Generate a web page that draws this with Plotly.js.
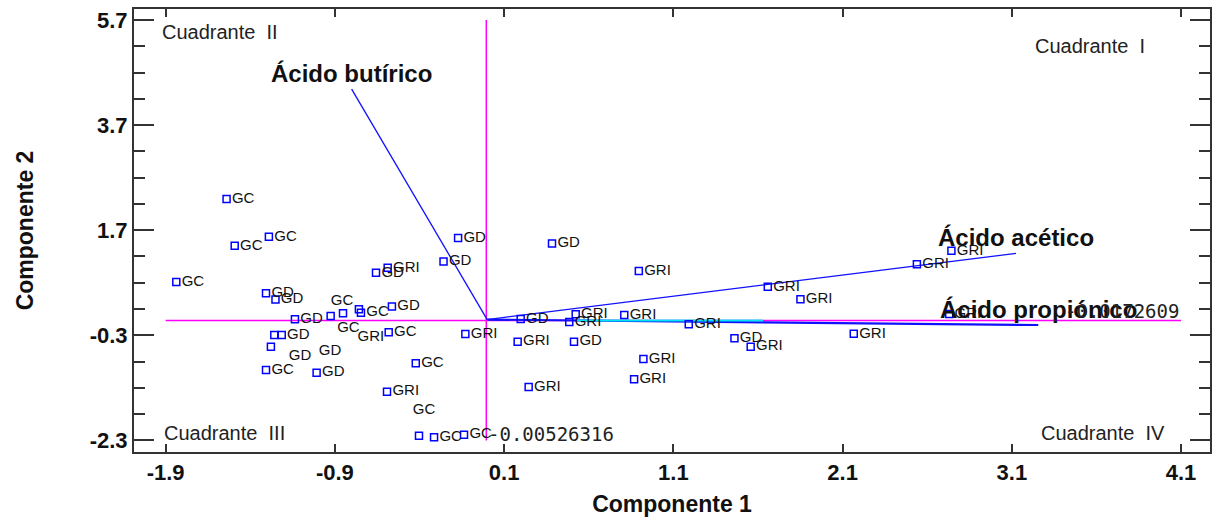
<!DOCTYPE html>
<html>
<head>
<meta charset="utf-8">
<script src="https://cdn.plot.ly/plotly-3.0.1.min.js"></script>
<style>
  html, body { margin: 0; padding: 0; background: #ffffff; }
  #chart { width: 1212px; height: 519px; }
</style>
</head>
<body>
<div id="chart"></div>
<script>
// ---- Data ----
// Observations with a visible square marker
const obsX = [-1.540, -1.290, -1.492, -1.837, -1.307, -1.251, -0.172, -0.258, -0.657, -0.588,
              -0.563, -1.136, -0.925, -0.852, -0.758, -0.746, -1.258, -1.214, -1.278, -1.307,
              -1.008, -0.582, -0.129, -0.422, -0.592, -0.403, -0.314, -0.137, 0.383, 0.896,
              0.198, 0.523, 0.485, 0.810, 1.191, 1.461, 1.557, 0.180, 0.513, 0.923,
              0.868, 0.245, 1.658, 1.851, 2.539, 2.743, 2.166, 2.730];
const obsY = [2.292, 1.575, 1.404, 0.713, 0.499, 0.381, 1.550, 1.103, 0.890, 0.985,
              0.248, 0.004, 0.067, 0.118, 0.194, 0.130, -0.294, -0.294, -0.517, -0.960,
              -1.011, -0.243, -0.275, -0.832, -1.372, -2.209, -2.240, -2.190, 1.449, 0.923,
              0.010, 0.099, -0.047, 0.086, -0.091, -0.357, -0.517, -0.422, -0.422, -0.751,
              -1.137, -1.283, 0.624, 0.385, 1.050, 1.309, -0.270, 0.105];
const obsLabel = ["GC", "GC", "GC", "GC", "GD", "GD", "GD", "GD", "GD", "GRI",
                  "GD", "GD", "", "", "", "GC", "", "GD", "", "GC",
                  "GD", "GC", "GRI", "GC", "GRI", "", "GC", "GC", "GD", "GRI",
                  "GD", "GRI", "GRI", "GRI", "GRI", "GD", "GRI", "GRI", "GD", "GRI",
                  "GRI", "GRI", "GRI", "GRI", "GRI", "GRI", "GRI", "GRI"];

// Labels displaced from their markers (drawn as text only)
const looseX = [-0.858, -0.820, -0.687, -1.106, -0.929, -0.373];
const looseY = [0.352, -0.161, -0.332, -0.707, -0.612, -1.734];
const looseLabel = ["GC", "GC", "GRI", "GD", "GD", "GC"];

// Variable vectors (loadings)
const varNames = ["Ácido butírico", "Ácido acético", "Ácido propiónico"];
const varX = [-0.801, 3.125, 3.256];
const varY = [4.383, 1.259, -0.104];

// Reference lines through the centroid
const refX = -0.00526316;
const refY = -0.0172609;
const refXLabel = "-0.00526316";
const refYLabel = "-0.0172609";
const refXSpan = [-2.3, 5.7];
const refYSpan = [-1.9, 4.1];
const cyanSegX = [0.53, 1.63];

// Axis ticks
const xTicks = [-1.9, -0.9, 0.1, 1.1, 2.1, 3.1, 4.1];
const xTickText = ["-1.9", "-0.9", "0.1", "1.1", "2.1", "3.1", "4.1"];
const yTicks = [-2.3, -0.3, 1.7, 3.7, 5.7];
const yTickText = ["-2.3", "-0.3", "1.7", "3.7", "5.7"];
const yMinor = [-1.8, -1.3, -0.8, 0.2, 0.7, 1.2, 2.2, 2.7, 3.2, 4.2, 4.7, 5.2];

const quadText = ["Cuadrante  I", "Cuadrante  II", "Cuadrante  III", "Cuadrante  IV"];

// ---- Traces ----
const traces = [];
traces.push({ x: [refX, refX], y: refXSpan, mode: "lines", type: "scatter",
  line: { color: "#ff00ff", width: 1.5 }, hoverinfo: "skip", showlegend: false });
traces.push({ x: refYSpan, y: [refY, refY], mode: "lines", type: "scatter",
  line: { color: "#ff00ff", width: 1.5 }, hoverinfo: "skip", showlegend: false });
for (let i = 0; i < varNames.length; i++) {
  traces.push({ x: [0, varX[i]], y: [0, varY[i]], mode: "lines", type: "scatter",
    line: { color: "#1010ff", width: i === 2 ? 2.2 : 1.3 }, hoverinfo: "skip", showlegend: false });
}
traces.push({ x: cyanSegX, y: [refY, refY], mode: "lines", type: "scatter",
  line: { color: "#00e5ee", width: 2 }, hoverinfo: "skip", showlegend: false });
const ptFont = { family: "Liberation Sans, Arial, sans-serif", size: 15, color: "#111" };
traces.push({ x: obsX, y: obsY, text: obsLabel, mode: "markers+text", type: "scatter",
  textposition: "middle right", textfont: ptFont,
  marker: { symbol: "square-open", size: 7, color: "#0000ff", line: { width: 1.5, color: "#0000ff" } },
  showlegend: false });
traces.push({ x: looseX, y: looseY, text: looseLabel, mode: "text", type: "scatter",
  textposition: "middle center", textfont: ptFont, showlegend: false });

// ---- Annotations ----
const annotations = [];
for (let i = 0; i < varNames.length; i++) {
  annotations.push({ x: varX[i], y: varY[i], xref: "x", yref: "y", text: varNames[i],
    showarrow: false, xanchor: "center", yanchor: "bottom", yshift: 0,
    font: { family: "Liberation Sans, Arial, sans-serif", size: 24, color: "#111", weight: "bold" } });
}
const qfont = { family: "Liberation Sans, Arial, sans-serif", size: 20, color: "#222" };
annotations.push({ xref: "paper", yref: "paper", x: 0.8355, y: 0.9165, text: quadText[0], showarrow: false, xanchor: "left", yanchor: "middle", font: qfont });
annotations.push({ xref: "paper", yref: "paper", x: 0.0242, y: 0.948, text: quadText[1], showarrow: false, xanchor: "left", yanchor: "middle", font: qfont });
annotations.push({ xref: "paper", yref: "paper", x: 0.0257, y: 0.042, text: quadText[2], showarrow: false, xanchor: "left", yanchor: "middle", font: qfont });
annotations.push({ xref: "paper", yref: "paper", x: 0.96, y: 0.042, text: quadText[3], showarrow: false, xanchor: "right", yanchor: "middle", font: qfont });
const mono = { family: "DejaVu Sans Mono, monospace", size: 19, color: "#222" };
annotations.push({ x: refX, y: refXSpan[0], xref: "x", yref: "y", text: refXLabel, showarrow: false,
  xanchor: "left", yanchor: "middle", yshift: 6, font: mono });
annotations.push({ x: refYSpan[1], y: refY, xref: "x", yref: "y", text: refYLabel, showarrow: false,
  xanchor: "right", yanchor: "bottom", yshift: -4, font: mono });

const tickFont = { family: "Liberation Sans, Arial, sans-serif", size: 22, color: "#111", weight: "bold" };
const layout = {
  width: 1212, height: 519,
  margin: { l: 134, r: 2, t: 9, b: 67 },
  paper_bgcolor: "#ffffff", plot_bgcolor: "#ffffff",
  showlegend: false,
  xaxis: {
    range: [-2.087, 4.271], tickmode: "array", tickvals: xTicks, ticktext: xTickText,
    ticks: "inside", ticklen: 8, tickwidth: 2, tickcolor: "#333",
    showline: true, linecolor: "#333", linewidth: 2, mirror: "ticks",
    showgrid: false, zeroline: false, tickfont: tickFont,
    title: { text: "Componente 1", font: { family: "Liberation Sans, Arial, sans-serif", size: 23, color: "#111", weight: "bold" }, standoff: 11 }
  },
  yaxis: {
    range: [-2.52, 5.909], tickmode: "array", tickvals: yTicks, ticktext: yTickText,
    ticks: "inside", ticklen: 20, tickwidth: 2, tickcolor: "#333",
    minor: { tickmode: "array", tickvals: yMinor, ticks: "inside", ticklen: 11, tickwidth: 2, tickcolor: "#333", showgrid: false },
    showline: true, linecolor: "#333", linewidth: 2, mirror: "ticks",
    showgrid: false, zeroline: false, tickfont: tickFont,
    title: { text: "Componente 2", font: { family: "Liberation Sans, Arial, sans-serif", size: 23, color: "#111", weight: "bold" }, standoff: 50 }
  },
  annotations: annotations
};

Plotly.newPlot("chart", traces, layout, { displayModeBar: false, staticPlot: true });
</script>
</body>
</html>
